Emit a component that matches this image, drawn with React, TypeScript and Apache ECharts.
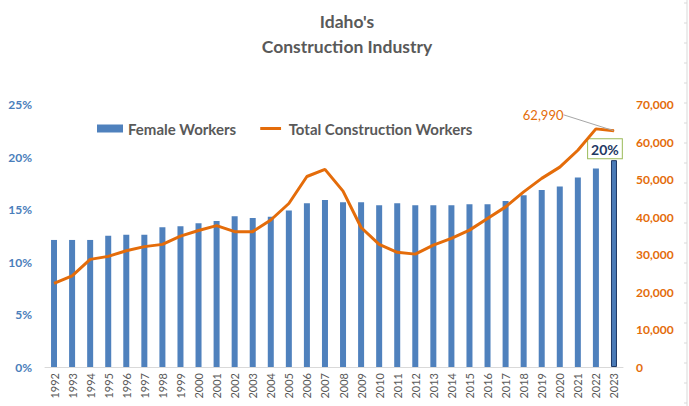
import React, { useEffect, useRef } from "react";
import * as echarts from "echarts";

const years = [
  "1992", "1993", "1994", "1995", "1996", "1997", "1998", "1999", "2000", "2001",
  "2002", "2003", "2004", "2005", "2006", "2007", "2008", "2009", "2010", "2011",
  "2012", "2013", "2014", "2015", "2016", "2017", "2018", "2019", "2020", "2021",
  "2022", "2023",
];
const femaleShare = [
  12.1, 12.1, 12.1, 12.5, 12.6, 12.6, 13.3, 13.4, 13.7, 13.9,
  14.35, 14.2, 14.3, 14.9, 15.6, 15.9, 15.7, 15.7, 15.4, 15.6,
  15.4, 15.4, 15.4, 15.5, 15.5, 15.8, 16.35, 16.85, 17.2, 18.05,
  18.9, 19.7,
];
const totalWorkers = [
  22300, 24300, 28700, 29500, 31000, 32100, 32700, 34900, 36400, 37700,
  36100, 36100, 39200, 43600, 50800, 52700, 46900, 37200, 32700, 30600,
  30100, 32500, 34300, 36500, 39600, 42700, 46700, 50300, 53300, 57800,
  63500, 62990,
];
const leftTicks = [0, 5, 10, 15, 20, 25];
const rightTicks = [0, 10000, 20000, 30000, 40000, 50000, 60000, 70000];

const FONT = "Lato, 'Open Sans', sans-serif";

export default function App() {
  const ref = useRef<HTMLDivElement>(null);
  useEffect(() => {
    if (!ref.current) return;
    const chart = echarts.init(ref.current, undefined, { renderer: "svg" });
    const last = years.length - 1;
    const sideTicks: any[] = [];
    for (let y = 3; y < 406; y += 20) {
      sideTicks.push({
        type: "line",
        shape: { x1: 684, y1: y, x2: 687, y2: y },
        style: { stroke: "#D9D9D9", lineWidth: 1 },
        silent: true,
      });
    }
    chart.setOption({
      animation: false,
      backgroundColor: "#ffffff",
      textStyle: { fontFamily: FONT },
      title: {
        text: "Idaho's\nConstruction Industry",
        left: 342,
        top: 4,
        textAlign: "center",
        textStyle: {
          fontFamily: FONT,
          fontSize: 17.5,
          fontWeight: "bold",
          color: "#595959",
          lineHeight: 25,
        },
      },
      legend: {
        left: 92,
        top: 116,
        itemGap: 24,
        itemWidth: 26,
        itemHeight: 8,
        textStyle: { fontFamily: FONT, fontSize: 15, fontWeight: "bold", color: "#595959" },
        data: [
          { name: "Female Workers", icon: "rect" },
          {
            name: "Total Construction Workers",
            icon: "path://M0,0 L0.01,0 L0,0.01 Z M0,3.1 L26,3.1 L26,6.9 L0,6.9 Z M0,10 L0.01,10 L0,9.99 Z",
          },
        ],
      },
      grid: { left: 45, right: 66, top: 104.5, bottom: 39 },
      xAxis: {
        type: "category",
        data: years,
        axisLine: { lineStyle: { color: "#D9D9D9", width: 1 } },
        axisTick: { show: false },
        axisLabel: {
          rotate: 90,
          interval: 0,
          fontFamily: FONT,
          fontSize: 11,
          color: "#595959",
          margin: 6,
        },
      },
      yAxis: [
        {
          type: "value",
          min: leftTicks[0],
          max: leftTicks[leftTicks.length - 1],
          interval: 5,
          splitLine: { show: false },
          axisLine: { show: false },
          axisTick: { show: false },
          axisLabel: {
            formatter: "{value}%",
            fontFamily: FONT,
            fontSize: 12,
            fontWeight: "bold",
            color: "#4A7EBB",
            margin: 13,
          },
        },
        {
          type: "value",
          min: rightTicks[0],
          max: rightTicks[rightTicks.length - 1],
          interval: 10000,
          splitLine: { show: false },
          axisLine: { show: false },
          axisTick: { show: false },
          axisLabel: {
            formatter: (v: number) => v.toLocaleString("en-US"),
            fontFamily: FONT,
            fontSize: 12,
            fontWeight: "bold",
            color: "#E46C0A",
            margin: 13,
          },
        },
      ],
      series: [
        {
          name: "Female Workers",
          type: "bar",
          yAxisIndex: 0,
          barWidth: 6,
          itemStyle: { color: "#4F81BD" },
          data: femaleShare.map((v, i) =>
            i === last
              ? {
                  value: v,
                  itemStyle: { color: "#4A7AB6", borderColor: "#1F3864", borderWidth: 1 },
                  label: {
                    show: true,
                    position: "top",
                    offset: [-9, 3],
                    formatter: (p: any) => Math.round(p.value) + "%",
                    fontFamily: FONT,
                    fontSize: 14,
                    fontWeight: "bold",
                    color: "#1F3864",
                    backgroundColor: "#ffffff",
                    borderColor: "#9BBB59",
                    borderWidth: 1,
                    padding: [3, 3, 2, 3],
                  },
                }
              : v
          ),
        },
        {
          name: "Total Construction Workers",
          type: "line",
          yAxisIndex: 1,
          symbol: "none",
          lineStyle: { color: "#E46C0A", width: 3 },
          itemStyle: { color: "#E46C0A" },
          data: totalWorkers.map((v, i) =>
            i === last
              ? {
                  value: v,
                  symbol: "circle",
                  symbolSize: 1,
                  label: {
                    show: true,
                    position: "left",
                    distance: 4,
                    formatter: (p: any) => Number(p.value).toLocaleString("en-US"),
                    fontFamily: FONT,
                    fontSize: 13,
                    color: "#E46C0A",
                  },
                  labelLine: { show: true, lineStyle: { color: "#A6A6A6", width: 1 } },
                }
              : v
          ),
          labelLayout: { dx: -46, dy: -16 },
        },
      ],
      graphic: [
        {
          type: "line",
          shape: { x1: 687, y1: 0, x2: 687, y2: 406 },
          style: { stroke: "#D9D9D9", lineWidth: 1 },
          silent: true,
        },
        ...sideTicks,
      ],
    });
    return () => chart.dispose();
  }, []);
  return <div ref={ref} style={{ width: 689, height: 406, position: "absolute", left: 0, top: 0 }} />;
}
